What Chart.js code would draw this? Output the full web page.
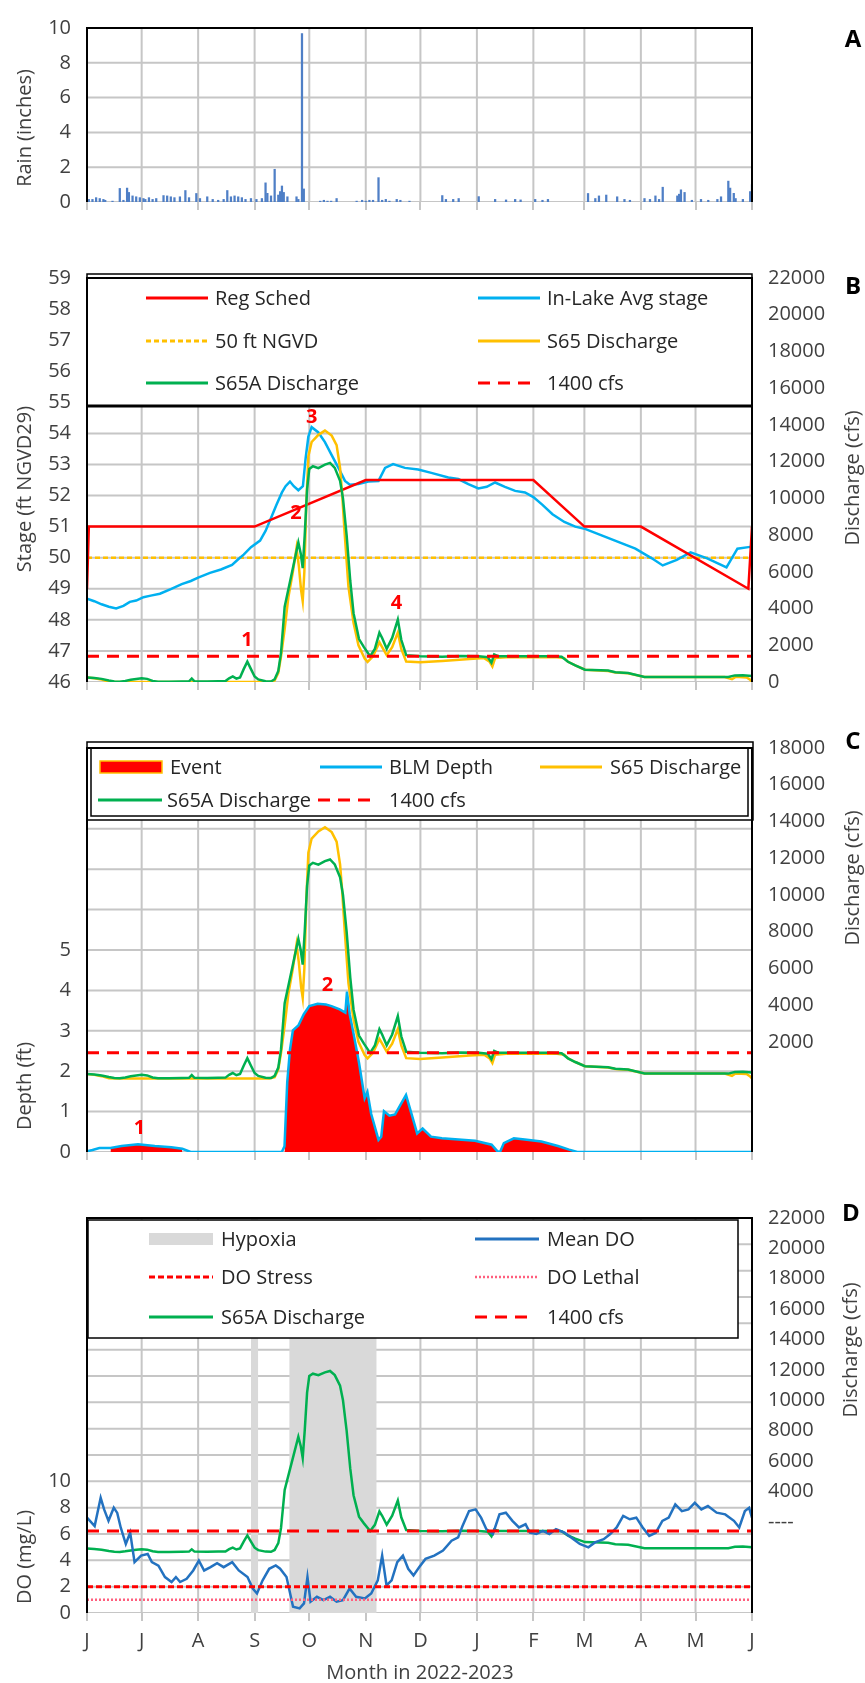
<!DOCTYPE html>
<html>
<head>
<meta charset="utf-8">
<script src="https://cdn.jsdelivr.net/npm/chart.js@4.4.1/dist/chart.umd.min.js"></script>
<style>
  html, body { margin: 0; padding: 0; background: #fff; }
  #wrap { position: relative; width: 865px; height: 1683px; }
  .pane { position: absolute; left: 0; width: 865px; }
</style>
</head>
<body>
<div id="wrap">
  <div class="pane" style="top:0px;height:230px"><canvas id="cA" width="865" height="230"></canvas></div>
  <div class="pane" style="top:250px;height:460px"><canvas id="cB" width="865" height="460"></canvas></div>
  <div class="pane" style="top:720px;height:460px"><canvas id="cC" width="865" height="460"></canvas></div>
  <div class="pane" style="top:1190px;height:493px"><canvas id="cD" width="865" height="493"></canvas></div>
</div>
<script>
// x is day number counted from 1 June 2022
const monthDays = [0, 30, 61, 92, 122, 153, 183, 214, 245, 273, 304, 334, 365];
const monthLabels = ["J", "J", "A", "S", "O", "N", "D", "J", "F", "M", "A", "M", "J"];

// left-axis tick values (gridlines)
const rainTicks = [0, 2, 4, 6, 8, 10];
const stageTicks = [46, 47, 48, 49, 50, 51, 52, 53, 54, 55, 56, 57, 58, 59];
const depthTicks = [0, 1, 2, 3, 4, 5, 6, 7, 8, 9, 10];
const doTicks = [0, 2, 4, 6, 8, 10, 12, 14, 16, 18, 20, 22, 24, 26, 28, 30];

// A - daily rain (inches)
const rainDays = [0, 1, 3, 5, 7, 9, 10, 14, 18, 20, 22, 23, 25, 27, 29, 31, 32, 34, 36, 38, 42, 44, 46, 48, 51, 54, 56, 60, 62, 66, 69, 72, 75, 77, 79, 81, 83, 85, 87, 90, 93, 96, 98, 99, 101, 103, 105, 106, 107, 108, 110, 115, 116, 118, 119, 128, 130, 132, 134, 137, 148, 151, 153, 155, 157, 160, 162, 164, 166, 170, 172, 177, 195, 197, 201, 204, 215, 224, 230, 235, 238, 246, 250, 253, 275, 279, 281, 285, 291, 295, 298, 306, 309, 312, 314, 316, 324, 325, 326, 328, 332, 337, 341, 346, 348, 352, 353, 355, 356, 360, 364, 365];
const rainVals = [0.1, 0.15, 0.15, 0.25, 0.2, 0.15, 0.1, 0.05, 0.78, 0.1, 0.8, 0.55, 0.35, 0.3, 0.25, 0.2, 0.15, 0.25, 0.15, 0.2, 0.37, 0.35, 0.3, 0.25, 0.3, 0.66, 0.25, 0.49, 0.2, 0.3, 0.15, 0.1, 0.15, 0.66, 0.3, 0.35, 0.3, 0.25, 0.15, 0.2, 0.15, 0.2, 1.1, 0.5, 0.35, 1.88, 0.4, 0.6, 0.92, 0.55, 0.3, 0.3, 0.15, 9.68, 0.75, 0.05, 0.1, 0.05, 0.05, 0.2, 0.05, 0.1, 0.05, 0.1, 0.1, 1.4, 0.1, 0.15, 0.05, 0.15, 0.1, 0.05, 0.37, 0.15, 0.15, 0.2, 0.31, 0.15, 0.12, 0.15, 0.12, 0.15, 0.1, 0.15, 0.49, 0.2, 0.35, 0.4, 0.3, 0.15, 0.1, 0.2, 0.15, 0.35, 0.15, 0.85, 0.35, 0.45, 0.7, 0.55, 0.1, 0.15, 0.1, 0.15, 0.3, 1.2, 0.8, 0.5, 0.2, 0.15, 0.6, 1.0];

// B - regulation schedule and in-lake stage (ft NGVD29)
const regDays = [0, 1, 92, 153, 245, 273, 304, 363, 365];
const regVals = [49, 51, 51, 52.5, 52.5, 51, 51, 49, 51];
const stageDays = [0, 4, 8, 12, 16, 20, 23.5, 27, 31, 35, 40, 46, 52, 57, 61, 67.5, 73.5, 79.6, 83, 86, 90, 95, 98, 101.4, 104, 107, 109, 111.4, 113.5, 116, 118.5, 120, 121.5, 123.3, 127, 130.6, 134.3, 138, 141.6, 144.3, 149, 154.4, 160, 163.6, 168, 174.5, 181.8, 189, 198.3, 203.8, 209.3, 214.8, 219.4, 224, 229.4, 235, 240.4, 245, 250, 255.5, 262, 268, 273.7, 282.8, 291.9, 301, 310, 316, 323.7, 331.3, 340.4, 351, 357, 363, 365];
const stageVals = [48.68, 48.6, 48.5, 48.42, 48.37, 48.45, 48.58, 48.62, 48.73, 48.78, 48.84, 48.99, 49.15, 49.25, 49.36, 49.51, 49.62, 49.77, 49.95, 50.1, 50.34, 50.55, 50.86, 51.33, 51.7, 52.1, 52.3, 52.45, 52.3, 52.17, 52.3, 53.2, 53.9, 54.2, 54.03, 53.72, 53.3, 52.89, 52.47, 52.35, 52.37, 52.45, 52.47, 52.89, 53.01, 52.89, 52.84, 52.73, 52.58, 52.53, 52.37, 52.23, 52.28, 52.42, 52.28, 52.15, 52.1, 51.95, 51.7, 51.4, 51.15, 51.0, 50.92, 50.71, 50.5, 50.29, 49.98, 49.75, 49.93, 50.17, 49.98, 49.69, 50.29, 50.34, 50.35];
const stage50 = 50;

// discharge (cfs), shared by B, C and D
const s65Days = [0, 4, 8, 12, 16, 100, 103, 105, 106.5, 108.5, 110.5, 113, 115, 116.3, 117.5, 118.4, 119.3, 120.3, 121.5, 123.3, 127, 130.6, 134.3, 137, 138.9, 140, 141.5, 143.5, 146.3, 149, 152.4, 154, 157, 160.5, 162, 164.5, 167.5, 170.6, 172.5, 175.2, 182.8, 195, 210, 218, 221, 222.5, 224, 230, 245, 258, 262, 264, 268, 273.3, 286, 290, 297, 306, 350, 354, 356, 362, 364, 365];
const s65Vals = [250, 200, 130, 20, 0, 0, 80, 500, 1400, 2900, 4600, 6000, 7300, 6300, 5000, 4400, 6000, 9500, 12300, 13070, 13460, 13690, 13420, 12900, 11660, 10300, 8000, 5200, 3220, 2000, 1280, 1100, 1400, 2160, 1900, 1460, 1900, 2690, 1800, 1110, 1070, 1150, 1250, 1300, 1100, 850, 1300, 1350, 1350, 1350, 1300, 1100, 900, 670, 600, 520, 480, 270, 270, 150, 280, 250, 120, 0];
const s65aDays = [0, 4, 8, 12, 15, 18, 21, 24, 27, 30, 33, 36, 39, 45, 52, 56, 57.5, 59, 66, 72, 76, 78, 80, 82, 84, 86, 88, 90, 92, 94, 98, 101, 103, 105, 106.5, 108.5, 111.5, 114.5, 116, 117.3, 118.4, 119.5, 120.8, 122, 124, 127, 130.6, 133.4, 136, 138.9, 140.5, 142.5, 144.5, 146.3, 149.3, 152, 155.4, 158, 160.5, 162, 164.5, 167.5, 170.6, 172.5, 175.2, 182.8, 195, 205, 215, 220, 222, 223.5, 226, 240, 255, 260.5, 264, 268, 273.3, 286, 290, 297, 306, 330, 352, 355.6, 360, 365];
const s65aVals = [250, 220, 170, 80, 30, 20, 60, 120, 160, 200, 170, 60, 20, 20, 30, 40, 190, 40, 30, 40, 50, 200, 300, 180, 250, 700, 1110, 700, 300, 140, 40, 30, 150, 600, 1600, 4100, 5500, 6900, 7600, 7000, 6200, 8000, 10500, 11600, 11750, 11650, 11840, 11930, 11660, 10960, 10000, 8000, 5500, 3750, 2340, 1900, 1400, 1800, 2690, 2400, 1810, 2400, 3400, 2300, 1460, 1400, 1380, 1420, 1400, 1350, 1050, 1500, 1400, 1400, 1400, 1380, 1100, 900, 670, 620, 530, 490, 270, 270, 270, 360, 370, 330];
const q1400 = 1400;

// C - BLM depth (ft) and event periods
const blmDays = [0, 3, 6.8, 12.9, 19, 28, 37.2, 46.3, 52.3, 56.9, 106.9, 108.4, 109.9, 111.4, 113, 116, 119, 122, 126.6, 131.1, 134.2, 138.7, 141.8, 142.7, 144.2, 146.3, 149.3, 152.4, 153.9, 156, 160, 161.5, 163, 166, 169.1, 172.1, 175.1, 178.2, 181.2, 184.2, 188.8, 194.8, 203.9, 213, 222.1, 225.2, 226.7, 228.8, 234.3, 240.3, 249.4, 258.5, 264.6, 269.1, 365];
const blmVals = [0.02, 0.05, 0.1, 0.1, 0.15, 0.19, 0.15, 0.12, 0.08, 0, 0, 0.14, 1.73, 2.53, 3.01, 3.13, 3.41, 3.61, 3.67, 3.65, 3.61, 3.53, 3.45, 3.97, 3.41, 2.93, 2.21, 1.33, 1.49, 0.94, 0.3, 0.38, 1.01, 0.9, 0.93, 1.17, 1.41, 0.93, 0.46, 0.58, 0.38, 0.34, 0.31, 0.28, 0.18, 0.02, 0, 0.22, 0.34, 0.31, 0.26, 0.15, 0.06, 0, 0];
const eventSpans = [[12, 53], [108, 270]];

// D - mean DO (mg/L), thresholds, hypoxia periods
const doDays = [0, 4.2, 7.5, 9.4, 11.8, 14.7, 16.6, 18.5, 21.3, 23.7, 26.1, 29.7, 33.3, 35.6, 39.2, 42.8, 46.4, 48.8, 51.1, 54.7, 58.3, 61.4, 64.3, 67.8, 71.4, 75, 79.7, 83.3, 88.1, 91, 93.3, 96.4, 100, 103.6, 106, 109.5, 113.1, 116.7, 119.1, 121, 122.7, 126.2, 129.8, 133.4, 137, 140.5, 144.1, 147.7, 152.5, 156, 159.6, 162, 164.4, 167.2, 170.3, 173.4, 176.3, 179.2, 182.3, 185.8, 190.6, 195.4, 200.1, 203.7, 206.1, 209.7, 213.3, 216.3, 219.2, 222.8, 226.4, 229.9, 233.5, 237.1, 240.7, 243.1, 246.6, 250.2, 253.8, 257.4, 262.1, 265.7, 270.5, 275.2, 278.8, 283.6, 287.2, 290.7, 294.3, 297.9, 301.5, 305, 308.6, 312.2, 315.8, 319.3, 322.9, 326.5, 330.1, 333.6, 337.2, 340.8, 345.6, 350.3, 355.1, 358, 361.1, 363.4, 365];
const doVals = [7.24, 6.6, 8.75, 7.87, 7.0, 8.0, 7.6, 6.5, 5.24, 6.1, 3.86, 4.36, 4.48, 3.86, 3.6, 2.73, 2.35, 2.73, 2.35, 2.6, 3.23, 3.98, 3.23, 3.48, 3.78, 3.48, 3.86, 3.23, 2.73, 1.86, 1.48, 2.48, 3.36, 3.61, 3.36, 2.73, 0.48, 0.35, 0.73, 2.73, 0.86, 1.23, 0.98, 1.23, 0.86, 0.98, 1.86, 1.23, 1.1, 1.48, 2.48, 4.36, 2.1, 2.48, 3.86, 4.36, 3.36, 2.86, 3.48, 4.11, 4.36, 4.74, 5.49, 5.74, 6.6, 7.74, 7.87, 7.24, 6.36, 6.0, 7.49, 7.62, 7.0, 6.5, 6.74, 6.1, 6.0, 6.24, 6.0, 6.36, 6.1, 5.74, 5.24, 4.99, 5.36, 5.6, 6.0, 6.5, 7.37, 7.12, 7.24, 6.5, 5.86, 6.1, 7.0, 7.24, 8.25, 7.74, 7.87, 8.37, 7.87, 8.12, 7.62, 7.49, 7.0, 6.5, 7.74, 7.99, 7.24];
const doStress = 2;
const doLethal = 1;
const hypoxiaSpans = [[90, 94], [111, 159]];

const RED = "#FF0000", CYAN = "#00B0F0", GOLD = "#FFC000", GREEN = "#00B050",
      BLUE = "#2372C0", PINK = "#FF5F7E", GRAY = "#D9D9D9", RAIN = "#4F7FC6", GRID = "#C6C6C6";

Chart.defaults.font.family = "'Open Sans', sans-serif";
Chart.defaults.font.size = 20;
Chart.defaults.color = "#404040";
Chart.defaults.animation = false;
Chart.defaults.plugins.legend.display = false;
Chart.defaults.plugins.tooltip.enabled = false;

const pts = (xs, ys) => xs.map((x, i) => ({ x: x, y: ys[i] }));
const level = (v) => [{ x: monthDays[0], y: v }, { x: monthDays[12], y: v }];
const bands = (spans, top) => spans.flatMap(([a, b]) => [{ x: a, y: top }, { x: b, y: top }, { x: b, y: null }]);
const eventPts = blmDays.map((d, i) => ({
  x: d,
  y: eventSpans.some(([a, b]) => d >= a && d <= b) ? blmVals[i] : null
}));

// gridlines as plain line datasets on the left axis, drawn first
function gridSet(ticks) {
  const lo = ticks[0], hi = ticks[ticks.length - 1];
  const data = monthDays.flatMap((m) => [{ x: m, y: lo }, { x: m, y: hi }, { x: m, y: null }])
    .concat(ticks.flatMap((v) => [{ x: monthDays[0], y: v }, { x: monthDays[12], y: v }, { x: monthDays[12], y: null }]));
  return { type: "line", data: data, borderColor: GRID, borderWidth: 2, pointRadius: 0,
           yAxisID: "y", order: 99, fill: false, tension: 0, spanGaps: false };
}

function line(data, color, axis, order, dash, width) {
  return { data: data, borderColor: color, yAxisID: axis, order: order, pointRadius: 0,
           borderDash: dash || [], borderWidth: width || 2.5, fill: false, tension: 0 };
}

function xScale(h, labels) {
  return {
    type: "linear", min: 0, max: 365, offset: false,
    afterBuildTicks: (s) => { s.ticks = monthDays.map((v) => ({ value: v })); },
    ticks: { display: labels, autoSkip: false, maxRotation: 0, padding: 8,
             callback: (v, i) => monthLabels[i] },
    grid: { display: false, drawTicks: true, tickLength: 8, offset: false },
    border: { display: false },
    afterFit: (s) => { s.height = h; }
  };
}

function leftScale(ticks, maxLabel) {
  return {
    position: "left", min: ticks[0], max: ticks[ticks.length - 1],
    ticks: { stepSize: ticks[1] - ticks[0], autoSkip: false, padding: 16,
             callback: (v) => (v <= maxLabel ? v : "") },
    grid: { display: false, drawTicks: false },
    border: { display: false },
    afterFit: (s) => { s.width = 87; }
  };
}

function rightScale(min, max, fmt) {
  return {
    position: "right", min: min, max: max,
    ticks: { stepSize: 2000, autoSkip: false, padding: 16, callback: fmt },
    grid: { display: false, drawTicks: false },
    border: { display: false },
    afterFit: (s) => { s.width = 113; }
  };
}

function drawLegend(ctx, L) {
  ctx.fillStyle = "#fff";
  ctx.fillRect(L.box[0], L.box[1], L.box[2], L.box[3]);
  ctx.strokeStyle = "#000";
  ctx.lineWidth = 1.5;
  ctx.strokeRect(L.box[0], L.box[1], L.box[2], L.box[3]);
  if (L.inner) ctx.strokeRect(L.inner[0], L.inner[1], L.inner[2], L.inner[3]);
  if (L.thickBottom) {
    ctx.lineWidth = 3;
    ctx.beginPath();
    ctx.moveTo(L.box[0], L.box[1] + L.box[3]);
    ctx.lineTo(L.box[0] + L.box[2], L.box[1] + L.box[3]);
    ctx.stroke();
  }
  ctx.font = "20px 'Open Sans'";
  ctx.textAlign = "left";
  ctx.textBaseline = "middle";
  L.items.forEach((it) => {
    const [label, x0, x1, y, tx, kind, color, dash, w] = it;
    if (kind === "rect") {
      ctx.fillStyle = color;
      ctx.fillRect(x0, y - 6, x1 - x0, 12);
      if (dash) { ctx.strokeStyle = dash; ctx.lineWidth = 1.5; ctx.setLineDash([]); ctx.strokeRect(x0, y - 6, x1 - x0, 12); }
    } else {
      ctx.strokeStyle = color;
      ctx.lineWidth = w || 3;
      ctx.setLineDash(dash || []);
      ctx.beginPath();
      ctx.moveTo(x0, y);
      ctx.lineTo(x1, y);
      ctx.stroke();
      ctx.setLineDash([]);
    }
    ctx.fillStyle = "#262626";
    ctx.fillText(label, tx, y + 1);
  });
}

const deco = {
  id: "deco",
  afterDatasetsDraw(chart, args, o) {
    const ctx = chart.ctx, a = chart.chartArea, sx = chart.scales.x;
    ctx.save();
    // small month tick marks under the plot
    ctx.strokeStyle = GRID;
    ctx.lineWidth = 2;
    ctx.beginPath();
    sx.ticks.forEach((t) => {
      const x = Math.round(sx.getPixelForValue(t.value));
      ctx.moveTo(x, a.bottom); ctx.lineTo(x, a.bottom + 8);
    });
    ctx.stroke();
    if (o.legend) drawLegend(ctx, o.legend);
    ctx.strokeStyle = "#000";
    ctx.lineWidth = 2;
    ctx.setLineDash([]);
    ctx.beginPath();
    ctx.moveTo(a.left, a.bottom); ctx.lineTo(a.left, a.top);
    ctx.lineTo(a.right, a.top); ctx.lineTo(a.right, a.bottom);
    ctx.stroke();
    (o.notes || []).forEach((n) => {
      const x = sx.getPixelForValue(n[1]);
      const y = chart.scales[n[3]].getPixelForValue(n[2]);
      ctx.fillStyle = RED;
      ctx.font = "bold 20px 'Open Sans'";
      ctx.textAlign = "center";
      ctx.textBaseline = "middle";
      ctx.fillText(n[0], x, y);
    });
    ctx.restore();
  },
  afterDraw(chart, args, o) {
    const ctx = chart.ctx;
    (o.titles || []).forEach((t) => {
      ctx.save();
      ctx.translate(t[1], t[2]);
      ctx.rotate(t[3] ? -Math.PI / 2 : 0);
      ctx.font = "20px 'Open Sans'";
      ctx.fillStyle = "#404040";
      ctx.textAlign = "center";
      ctx.textBaseline = "middle";
      ctx.fillText(t[0], 0, 0);
      ctx.restore();
    });
    if (o.letter) {
      ctx.save();
      ctx.font = "bold 24px 'Open Sans'";
      ctx.fillStyle = "#000";
      ctx.textAlign = "center";
      ctx.textBaseline = "middle";
      ctx.fillText(o.letter[0], o.letter[1], o.letter[2]);
      ctx.restore();
    }
  }
};

// ---------- A: rain ----------
new Chart(document.getElementById("cA"), {
  type: "bar",
  data: {
    datasets: [
      { data: pts(rainDays, rainVals), backgroundColor: RAIN, barThickness: 1.6, yAxisID: "y", order: 1 },
      gridSet(rainTicks)
    ]
  },
  plugins: [deco],
  options: {
    responsive: false,
    layout: { padding: { top: 20, bottom: 0, left: 0, right: 0 } },
    scales: {
      x: xScale(19, false),
      y: leftScale(rainTicks, 10),
      y2: { position: "right", min: 0, max: 10,
            ticks: { display: false }, grid: { display: false, drawTicks: false },
            border: { display: false }, afterFit: (s) => { s.width = 113; } }
    },
    plugins: {
      deco: {
        titles: [["Rain (inches)", 25, 128, true]],
        letter: ["A", 853, 40]
      }
    }
  }
});

// ---------- B: stage & discharge ----------
new Chart(document.getElementById("cB"), {
  type: "line",
  data: {
    datasets: [
      line(level(q1400), RED, "y2", 0, [12, 8], 3),
      line(pts(s65aDays, s65aVals), GREEN, "y2", 1),
      line(pts(s65Days, s65Vals), GOLD, "y2", 2),
      line(pts(regDays, regVals), RED, "y", 3),
      line(pts(stageDays, stageVals), CYAN, "y", 4),
      line(level(stage50), GOLD, "y", 5, [5, 3], 2.5),
      gridSet(stageTicks)
    ]
  },
  plugins: [deco],
  options: {
    responsive: false,
    layout: { padding: { top: 24, bottom: 0, left: 0, right: 0 } },
    scales: {
      x: xScale(19, false),
      y: leftScale(stageTicks, 59),
      y2: rightScale(0, 22000, (v) => v)
    },
    plugins: {
      deco: {
        legend: {
          box: [87, 24, 665, 132], thickBottom: true,
          items: [
            ["Reg Sched", 146, 208, 48, 215, "line", RED],
            ["In-Lake Avg stage", 478, 540, 48, 547, "line", CYAN],
            ["50 ft NGVD", 146, 208, 91, 215, "line", GOLD, [5, 3]],
            ["S65 Discharge", 478, 540, 91, 547, "line", GOLD],
            ["S65A Discharge", 146, 208, 133, 215, "line", GREEN],
            ["1400 cfs", 478, 532, 133, 547, "line", RED, [12, 8]]
          ]
        },
        notes: [["1", 87.8, 2270, "y2"], ["2", 114.7, 51.42, "y"], ["3", 123.3, 54.53, "y"], ["4", 169.9, 4274, "y2"]],
        titles: [["Stage (ft NGVD29)", 25, 239, true], ["Discharge (cfs)", 853, 228, true]],
        letter: ["B", 853, 37]
      }
    }
  }
});

// ---------- C: depth & discharge ----------
new Chart(document.getElementById("cC"), {
  type: "line",
  data: {
    datasets: [
      line(level(q1400), RED, "y2", 0, [12, 8], 3),
      line(pts(s65aDays, s65aVals), GREEN, "y2", 1),
      line(pts(s65Days, s65Vals), GOLD, "y2", 2),
      line(pts(blmDays, blmVals), CYAN, "y", 3),
      { data: eventPts, yAxisID: "y", order: 4, borderWidth: 0, borderColor: RED, pointRadius: 0,
        backgroundColor: RED, fill: "origin", tension: 0 },
      gridSet(depthTicks)
    ]
  },
  plugins: [deco],
  options: {
    responsive: false,
    layout: { padding: { top: 22, bottom: 0, left: 0, right: 0 } },
    scales: {
      x: xScale(21, false),
      y: leftScale(depthTicks, 5),
      y2: rightScale(-4000, 18000, (v) => (v >= 2000 ? v : ""))
    },
    plugins: {
      deco: {
        legend: {
          box: [87, 22, 666, 78], inner: [91, 28, 657, 68],
          items: [
            ["Event", 100, 162, 47, 170, "rect", RED, GOLD],
            ["BLM Depth", 320, 382, 47, 389, "line", CYAN],
            ["S65 Discharge", 540, 602, 47, 610, "line", GOLD],
            ["S65A Discharge", 98, 162, 80, 167, "line", GREEN],
            ["1400 cfs", 318, 375, 80, 389, "line", RED, [12, 8]]
          ]
        },
        notes: [["1", 28.8, 0.58, "y"], ["2", 132, 4.13, "y"]],
        titles: [["Depth (ft)", 25, 366, true], ["Discharge (cfs)", 853, 158, true]],
        letter: ["C", 853, 22]
      }
    }
  }
});

// ---------- D: dissolved oxygen & discharge ----------
new Chart(document.getElementById("cD"), {
  type: "line",
  data: {
    datasets: [
      line(level(q1400), RED, "y2", 0, [12, 8], 3),
      line(level(doStress), RED, "y", 1, [6, 3], 3),
      line(level(doLethal), PINK, "y", 1, [2, 2], 2.5),
      line(pts(doDays, doVals), BLUE, "y", 2),
      line(pts(s65aDays, s65aVals), GREEN, "y2", 3),
      { data: bands(hypoxiaSpans, 30), yAxisID: "y", order: 5, borderWidth: 0, pointRadius: 0,
        borderColor: GRAY, backgroundColor: GRAY, fill: "origin", tension: 0 },
      gridSet(doTicks)
    ]
  },
  plugins: [deco],
  options: {
    responsive: false,
    layout: { padding: { top: 24, bottom: 0, left: 0, right: 0 } },
    scales: {
      x: xScale(70, true),
      y: leftScale(doTicks, 10),
      y2: rightScale(-4000, 22000, (v) => (v >= 4000 ? v : (v === 2000 ? "----" : "")))
    },
    plugins: {
      deco: {
        legend: {
          box: [88, 30, 650, 118],
          items: [
            ["Hypoxia", 149, 213, 49, 221, "rect", GRAY],
            ["Mean DO", 475, 539, 49, 547, "line", BLUE],
            ["DO Stress", 149, 213, 87, 221, "line", RED, [6, 3]],
            ["DO Lethal", 475, 539, 87, 547, "line", PINK, [2, 2], 2.5],
            ["S65A Discharge", 149, 213, 127, 221, "line", GREEN],
            ["1400 cfs", 475, 530, 127, 547, "line", RED, [12, 8]]
          ]
        },
        titles: [["DO (mg/L)", 25, 367, true], ["Discharge (cfs)", 851, 160, true],
                 ["Month in 2022-2023", 420, 483, false]],
        letter: ["D", 851, 24]
      }
    }
  }
});
</script>
</body>
</html>
